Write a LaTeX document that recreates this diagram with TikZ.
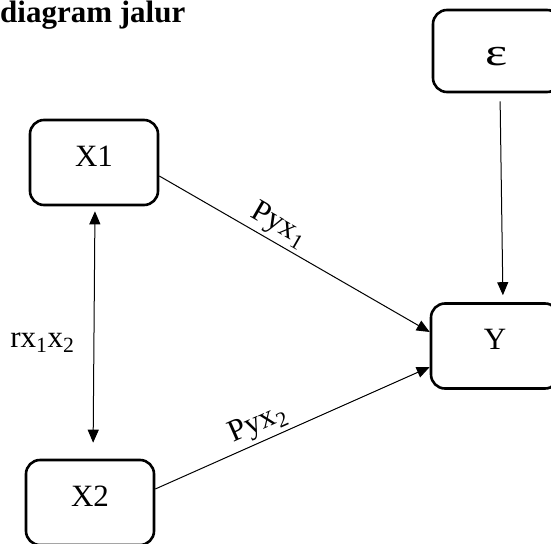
\documentclass[tikz,border=0pt]{standalone}
\usepackage{fontspec}
\setmainfont{Liberation Serif}
\usetikzlibrary{arrows.meta}
\begin{document}
\begin{tikzpicture}[x=1pt, y=-1pt, every node/.append style={font=\fontsize{31}{37}\selectfont},
		>={Triangle[length=13pt,width=11pt]},
		kotak/.style={draw, line width=2.6pt, rounded corners=14pt, minimum width=128pt, minimum height=85pt, inner sep=0pt, text height=22pt, text depth=15pt},
		panah/.style={line width=1pt, ->},
		lbl/.style={inner sep=0pt}]
	\useasboundingbox (0,0) rectangle (551,543);
	\node[anchor=base west, lbl, font=\fontsize{31}{37}\selectfont\bfseries] (judul) at (0,23) {diagram jalur};

	\node[kotak] (x1) at (94,162.5) {X1};
	\node[kotak] (x2) at (90,502.5) {X2};
	\node[kotak] (y) at (495,346) {Y};
	\node[kotak, minimum height=82pt, text height=30pt, text depth=2pt] (e) at (497,51) {\scalebox{1.7}[1.25]{ε}};

	\draw[panah, <->, shorten <=5pt, shorten >=16pt] ([xshift=1pt]x1.south) -- node[lbl, pos=0.54, left=19pt] {rx\textsubscript{1}x\textsubscript{2}} ([xshift=3pt]x2.north);
	\draw[panah] ([yshift=-13.5pt]x1.east) -- node[lbl, pos=0.41, sloped, above=3pt] {Pyx\textsubscript{1}} ([yshift=14pt]y.west);
	\draw[panah] ([yshift=13.5pt]x2.east) -- node[lbl, pos=0.40, sloped, above=3pt] {Pyx\textsubscript{2}} ([yshift=-21pt]y.west);
	\draw[panah, shorten <=8pt, shorten >=7pt] ([xshift=3pt]e.south) -- ([xshift=8pt]y.north);
\end{tikzpicture}
\end{document}
